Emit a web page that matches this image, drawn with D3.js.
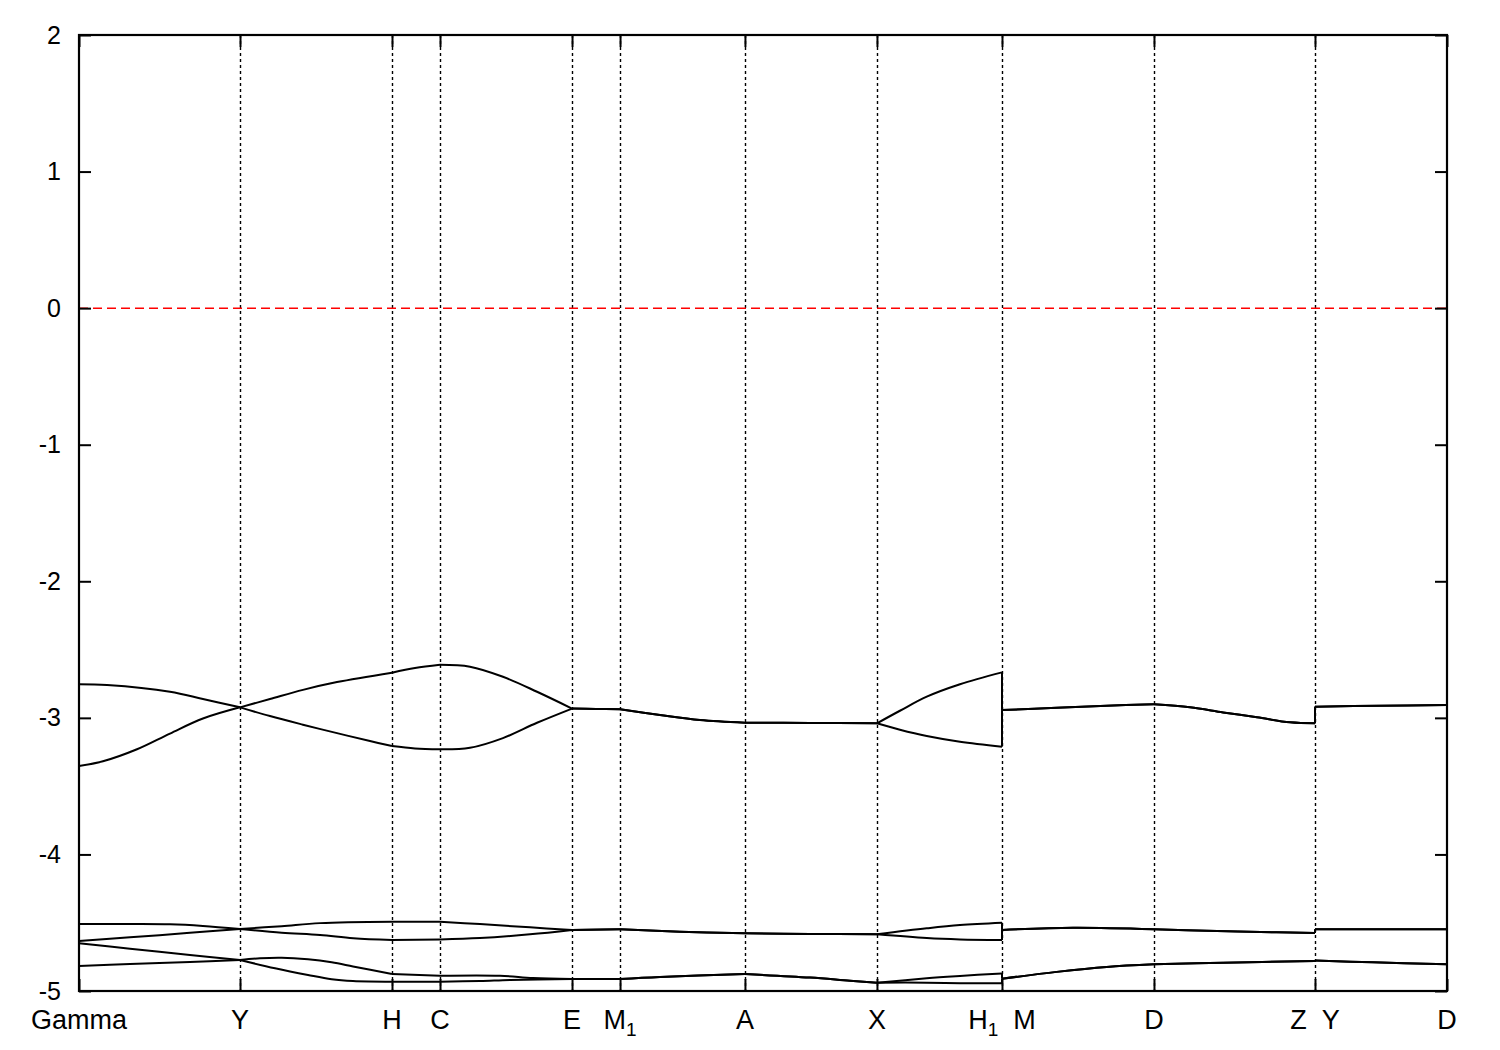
<!DOCTYPE html>
<html>
<head>
<meta charset="utf-8">
<script src="https://cdn.jsdelivr.net/npm/d3@7"></script>
<style>
  html, body { margin: 0; padding: 0; background: #fff; }
  text { font-family: "Liberation Sans", Arial, sans-serif; fill: #000; }
</style>
</head>
<body>
<svg id="chart" width="1500" height="1050"></svg>
<script>
// ---- data ----
const kTicks = [0, 0.1177, 0.2288, 0.2639, 0.3604, 0.3955, 0.4868, 0.5833, 0.6747, 0.7858, 0.9035, 1];
const kLabels = ["Gamma", "Y", "H", "C", "E", "M_1", "A", "X", "H_1\u00a0\u00a0M", "D", "Z\u00a0\u00a0Y", "D"];
const yTicks = [-5, -4, -3, -2, -1, 0, 1, 2];
const fermiLevel = 0;

const band6 = [[0,-2.754],[0.0205,-2.760],[0.0665,-2.809],[0.0906,-2.862],[0.1177,-2.923],
  [0.1396,-2.862],[0.1637,-2.795],[0.1886,-2.738],[0.2288,-2.669],
  [0.2456,-2.635],[0.2639,-2.611],
  [0.2858,-2.625],[0.3099,-2.699],[0.3348,-2.809],[0.3604,-2.932],
  [0.3779,-2.935],[0.3955,-2.937],
  [0.4247,-2.979],[0.4539,-3.016],[0.4868,-3.035],
  [0.5344,-3.037],[0.5833,-3.040],
  [0.6001,-2.948],[0.6197,-2.845],[0.6440,-2.754],[0.6747,-2.667],
  [0.6747,-2.943],[0.7147,-2.926],[0.7512,-2.911],[0.7858,-2.901],
  [0.8121,-2.923],[0.8363,-2.960],[0.8611,-2.996],[0.8853,-3.033],[0.9035,-3.040],
  [0.9035,-2.918],[0.9510,-2.911],[1,-2.906]];

const band5 = [[0,-3.353],[0.0175,-3.318],[0.0424,-3.230],[0.0665,-3.115],[0.0906,-3.005],[0.1177,-2.923],
  [0.1396,-2.987],[0.1637,-3.050],[0.1886,-3.112],[0.2127,-3.170],[0.2288,-3.206],
  [0.2456,-3.224],[0.2639,-3.230],
  [0.2858,-3.219],[0.3099,-3.148],[0.3348,-3.036],[0.3604,-2.932],
  [0.3779,-2.935],[0.3955,-2.937],
  [0.4247,-2.979],[0.4539,-3.016],[0.4868,-3.035],
  [0.5344,-3.037],[0.5833,-3.040],
  [0.6001,-3.087],[0.6197,-3.133],[0.6440,-3.175],[0.6747,-3.211],
  [0.6747,-2.943],[0.7147,-2.926],[0.7512,-2.911],[0.7858,-2.901],
  [0.8121,-2.923],[0.8363,-2.960],[0.8611,-2.996],[0.8853,-3.033],[0.9035,-3.040],
  [0.9035,-2.918],[0.9510,-2.911],[1,-2.906]];

const band4 = [[0,-4.510],[0.0373,-4.510],[0.0665,-4.512],[0.0906,-4.524],[0.1177,-4.546],
  [0.1482,-4.525],[0.1762,-4.503],[0.2288,-4.493],
  [0.2639,-4.493],
  [0.2931,-4.510],[0.3297,-4.534],[0.3604,-4.553],
  [0.3955,-4.548],
  [0.4393,-4.566],[0.4868,-4.578],
  [0.5344,-4.582],[0.5833,-4.585],
  [0.6197,-4.541],[0.6440,-4.517],[0.6747,-4.500],
  [0.6747,-4.553],[0.7266,-4.537],[0.7858,-4.548],
  [0.8243,-4.559],[0.8755,-4.570],[0.9035,-4.575],
  [0.9035,-4.548],[1,-4.548]];

const band3 = [[0,-4.634],[0.0373,-4.607],[0.0811,-4.574],[0.1177,-4.546],
  [0.1482,-4.573],[0.1762,-4.590],[0.2005,-4.614],[0.2288,-4.627],
  [0.2639,-4.622],
  [0.2931,-4.612],[0.3297,-4.585],[0.3604,-4.553],
  [0.3955,-4.548],
  [0.4393,-4.566],[0.4868,-4.578],
  [0.5344,-4.582],[0.5833,-4.585],
  [0.6197,-4.612],[0.6440,-4.622],[0.6747,-4.627],
  [0.6747,-4.553],[0.7266,-4.537],[0.7858,-4.548],
  [0.8243,-4.559],[0.8755,-4.570],[0.9035,-4.575],
  [0.9035,-4.548],[1,-4.548]];

const band2 = [[0,-4.651],[0.0373,-4.690],[0.0811,-4.736],[0.1177,-4.773],
  [0.1323,-4.760],[0.1482,-4.756],[0.1674,-4.768],[0.1847,-4.790],[0.2003,-4.820],[0.2288,-4.876],
  [0.2639,-4.888],
  [0.3077,-4.888],[0.3319,-4.905],[0.3604,-4.912],
  [0.3955,-4.912],
  [0.4247,-4.897],[0.4868,-4.876],
  [0.5344,-4.902],[0.5636,-4.925],[0.5833,-4.939],
  [0.6197,-4.907],[0.6440,-4.890],[0.6747,-4.871],
  [0.6747,-4.910],[0.7147,-4.860],[0.7512,-4.824],[0.7858,-4.805],
  [0.8363,-4.793],[0.9035,-4.781],
  [0.9035,-4.777],[0.9459,-4.790],[1,-4.805]];

const band1 = [[0,-4.817],[0.0373,-4.803],[0.0811,-4.787],[0.1177,-4.773],
  [0.1433,-4.834],[0.1674,-4.883],[0.1847,-4.914],[0.2003,-4.927],[0.2288,-4.932],
  [0.2639,-4.932],
  [0.2931,-4.927],[0.3151,-4.919],[0.3604,-4.912],
  [0.3955,-4.912],
  [0.4247,-4.897],[0.4868,-4.876],
  [0.5344,-4.902],[0.5636,-4.925],[0.5833,-4.939],
  [0.6197,-4.939],[0.6440,-4.943],[0.6747,-4.943],
  [0.6747,-4.910],[0.7147,-4.860],[0.7512,-4.824],[0.7858,-4.805],
  [0.8363,-4.793],[0.9035,-4.781],
  [0.9035,-4.777],[0.9459,-4.790],[1,-4.805]];

const bands = [band1, band2, band3, band4, band5, band6];

// ---- drawing ----
const W = 1500, H = 1050;
const margin = {left: 79, right: 53, top: 35, bottom: 59};
const x = d3.scaleLinear().domain([0, 1]).range([margin.left, W - margin.right]);
const y = d3.scaleLinear().domain([-5, 2]).range([H - margin.bottom, margin.top]);

const svg = d3.select("#chart");
svg.append("rect").attr("width", W).attr("height", H).attr("fill", "#fff");

// dotted high-symmetry lines
svg.append("g").selectAll("line").data(kTicks.slice(1, -1)).join("line")
  .attr("x1", d => Math.round(x(d)) + 0.5).attr("x2", d => Math.round(x(d)) + 0.5)
  .attr("y1", y(2)).attr("y2", y(-5))
  .attr("stroke", "#000").attr("stroke-width", 1.4)
  .attr("stroke-dasharray", "3,3");

// Fermi level
svg.append("line")
  .attr("x1", x(0)).attr("x2", x(1))
  .attr("y1", y(fermiLevel)).attr("y2", y(fermiLevel))
  .attr("stroke", "#ff0000").attr("stroke-width", 1.5)
  .attr("stroke-dasharray", "9,5");

// bands
const isTick = k => kTicks.some(t => Math.abs(t - k) < 1e-9);
const lineGen = d3.line().x(d => x(d[0])).y(d => y(d[1])).curve(d3.curveCatmullRom.alpha(0.5));
const bandG = svg.append("g").attr("fill", "none").attr("stroke", "#000")
  .attr("stroke-width", 2).attr("stroke-linejoin", "round");
bands.forEach(b => {
  let piece = [b[0]];
  const pieces = [], jumps = [];
  for (let i = 1; i < b.length; i++) {
    if (Math.abs(b[i][0] - b[i-1][0]) < 1e-9) {
      if (piece.length > 1) pieces.push(piece);
      jumps.push([b[i-1], b[i]]);
      piece = [b[i]];
    } else {
      piece.push(b[i]);
      if (isTick(b[i][0]) && i < b.length - 1) {
        pieces.push(piece);
        piece = [b[i]];
      }
    }
  }
  if (piece.length > 1) pieces.push(piece);
  pieces.forEach(p => bandG.append("path").attr("d", lineGen(p)));
  jumps.forEach(j => bandG.append("path").attr("d", d3.line().x(d => x(d[0])).y(d => y(d[1]))(j)));
});

// frame
svg.append("rect")
  .attr("x", x(0)).attr("y", y(2))
  .attr("width", x(1) - x(0)).attr("height", y(-5) - y(2))
  .attr("fill", "none").attr("stroke", "#000").attr("stroke-width", 2.2);

// y axes (left with labels, right mirrored)
const yAxisL = svg.append("g").attr("transform", `translate(${x(0)},0)`)
  .call(d3.axisLeft(y).tickValues(yTicks).tickSize(-12).tickPadding(18).tickFormat(d3.format("d")));
yAxisL.select(".domain").remove();
yAxisL.selectAll(".tick line").attr("stroke", "#000").attr("stroke-width", 2);
yAxisL.selectAll(".tick text").attr("font-size", 25).attr("font-family", "Liberation Sans, Arial, sans-serif")
  .attr("fill", "#000").text(d => d < 0 ? "-" + Math.abs(d) : d);

const yAxisR = svg.append("g").attr("transform", `translate(${x(1)},0)`)
  .call(d3.axisRight(y).tickValues(yTicks).tickSize(-12).tickFormat(""));
yAxisR.select(".domain").remove();
yAxisR.selectAll(".tick line").attr("stroke", "#000").attr("stroke-width", 2);

// x ticks bottom and top
const xAxisB = svg.append("g").attr("transform", `translate(0,${y(-5)})`)
  .call(d3.axisBottom(x).tickValues(kTicks).tickSize(-12).tickFormat(""));
xAxisB.select(".domain").remove();
xAxisB.selectAll(".tick line").attr("stroke", "#000").attr("stroke-width", 2);
const xAxisT = svg.append("g").attr("transform", `translate(0,${y(2)})`)
  .call(d3.axisTop(x).tickValues(kTicks).tickSize(-12).tickFormat(""));
xAxisT.select(".domain").remove();
xAxisT.selectAll(".tick line").attr("stroke", "#000").attr("stroke-width", 2);

// x labels with subscripts
const labG = svg.append("g");
kTicks.forEach((k, i) => {
  const t = labG.append("text").attr("x", x(k)).attr("y", 1029)
    .attr("text-anchor", "middle").attr("font-size", 27);
  const parts = kLabels[i].split(/_(\w)/);
  parts.forEach((p, j) => {
    if (!p) return;
    if (j % 2 === 1) {
      t.append("tspan").attr("font-size", 19).attr("dy", 7).text(p);
    } else {
      const ts = t.append("tspan").text(p);
      if (j > 0) ts.attr("dy", -7);
    }
  });
});
</script>
</body>
</html>
